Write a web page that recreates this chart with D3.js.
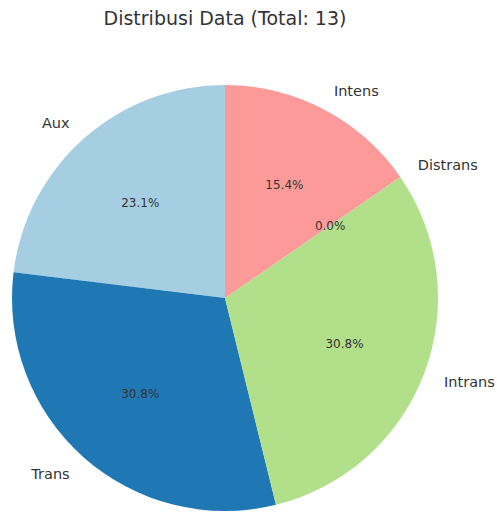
<!DOCTYPE html>
<html>
<head>
<meta charset="utf-8">
<script src="https://cdn.jsdelivr.net/npm/d3@7"></script>
<style>
  body { margin: 0; background: #fff; }
  text { font-family: "DejaVu Sans", sans-serif; fill: #333; }
</style>
</head>
<body>
<div id="chart"></div>
<script>
// data
var categories = ["Aux", "Trans", "Intrans", "Distrans", "Intens"];
var counts = [3, 4, 4, 0, 2];
var colors = ["#a6cee3", "#1f78b4", "#b2df8a", "#33a02c", "#fb9a99"];

var svgWidth = 497;
var svgHeight = 513;
var cx = 225, cy = 298, radius = 213;

var total = d3.sum(counts);

var svg = d3.select("#chart")
    .append("svg")
    .attr("width", svgWidth)
    .attr("height", svgHeight);

svg.append("text")
    .attr("x", cx)
    .attr("y", 25)
    .attr("text-anchor", "middle")
    .attr("font-size", "19px")
    .text("Distribusi Data (Total: " + total + ")");

var g = svg.append("g")
    .attr("transform", `translate(${cx}, ${cy})`);

// counter-clockwise from the top, like matplotlib startangle=90
var pie = d3.pie()
    .sort(null)
    .startAngle(0)
    .endAngle(-2 * Math.PI)
    .value(d => d.value);

var data = categories.map((c, i) => ({ name: c, value: counts[i], color: colors[i] }));
var arcs = pie(data);

var arc = d3.arc().innerRadius(0).outerRadius(radius);

g.selectAll(".slice")
    .data(arcs)
    .enter()
    .append("path")
    .attr("class", "slice")
    .attr("d", arc)
    .attr("fill", d => d.data.color);

function pos(d, f) {
    var a = (d.startAngle + d.endAngle) / 2;
    return [radius * f * Math.sin(a), -radius * f * Math.cos(a)];
}

// category labels
g.selectAll(".lbl")
    .data(arcs)
    .enter()
    .append("text")
    .attr("class", "lbl")
    .attr("x", d => pos(d, 1.1)[0])
    .attr("y", d => pos(d, 1.1)[1])
    .attr("dy", "0.38em")
    .attr("text-anchor", d => pos(d, 1.1)[0] > 0 ? "start" : "end")
    .attr("font-size", "14.5px")
    .text(d => d.data.name);

// percentages
g.selectAll(".pct")
    .data(arcs)
    .enter()
    .append("text")
    .attr("class", "pct")
    .attr("x", d => pos(d, 0.6)[0])
    .attr("y", d => pos(d, 0.6)[1])
    .attr("dy", "0.38em")
    .attr("text-anchor", "middle")
    .attr("font-size", "12px")
    .text(d => (d.data.value / total * 100).toFixed(1) + "%");
</script>
</body>
</html>
